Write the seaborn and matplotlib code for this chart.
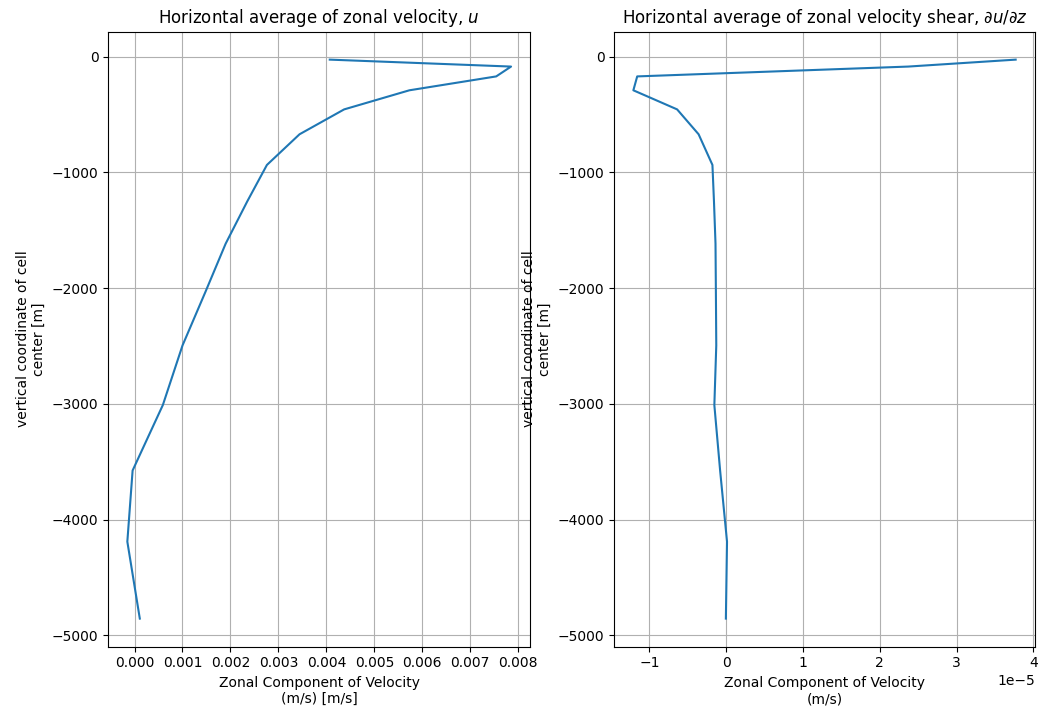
import numpy as np
import pandas as pd
import matplotlib
matplotlib.use('Agg')
import matplotlib.pyplot as plt
import seaborn as sns

# cell-centre depths (m)
z_center = [-25, -85, -170, -290, -455, -670, -935, -1250, -1615, -2030,
            -2495, -3010, -3575, -4190, -4855]

# horizontal mean zonal velocity (m/s)
u_mean = [0.00407, 0.00785, 0.00754, 0.00573, 0.00437, 0.00344, 0.00276,
          0.00235, 0.00190, 0.00148, 0.00100, 0.00059, -0.00004, -0.00015,
          0.00011]

# horizontal mean vertical shear du/dz (1/s)
shear_mean = [3.77e-5, 2.37e-5, -1.16e-5, -1.21e-5, -0.64e-5, -0.36e-5,
              -0.18e-5, -0.16e-5, -0.14e-5, -0.135e-5, -0.13e-5, -0.155e-5,
              -0.08e-5, 0.01e-5, -0.005e-5]

df = pd.DataFrame({'z': z_center, 'u': u_mean, 'dudz': shear_mean})

fig = plt.figure(figsize=(10.5, 7.2), dpi=100)
ax1 = fig.add_axes([0.103, 0.102, 0.402, 0.854])
ax2 = fig.add_axes([0.585, 0.102, 0.4005, 0.854])

# left: velocity profile
sns.lineplot(data=df, x='u', y='z', sort=False, estimator=None, ax=ax1, color='#1f77b4')
ax1.set_title('Horizontal average of zonal velocity, $u$')
ax1.set_xlabel('Zonal Component of Velocity\n(m/s) [m/s]')
ax1.set_ylabel('vertical coordinate of cell\ncenter [m]')
ax1.grid(True)

# right: shear profile
sns.lineplot(data=df, x='dudz', y='z', sort=False, estimator=None, ax=ax2, color='#1f77b4')
ax2.set_title(r'Horizontal average of zonal velocity shear, $\partial u/\partial z$')
ax2.set_xlabel('Zonal Component of Velocity\n(m/s)')
ax2.set_ylabel('vertical coordinate of cell\ncenter [m]')
ax2.grid(True)

fig.savefig('out.png', dpi=100)
